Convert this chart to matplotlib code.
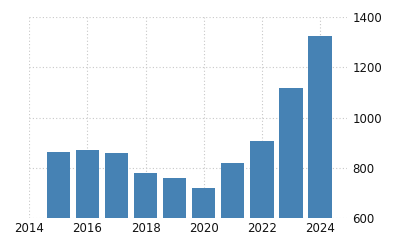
import matplotlib
matplotlib.use("Agg")
import matplotlib.pyplot as plt

years = [2015, 2016, 2017, 2018, 2019, 2020, 2021, 2022, 2023, 2024]
values = [864, 872, 860, 781, 761, 721, 820, 908, 1119, 1327]
xticks = [2014, 2016, 2018, 2020, 2022, 2024]
yticks = [600, 800, 1000, 1200, 1400]

fig = plt.figure(figsize=(4, 2.5), dpi=100)
ax = fig.add_axes([0.073, 0.127, 0.794, 0.804])
ax.bar(years, [v - 600 for v in values], bottom=600, width=0.8, color="#4682b4", zorder=2)
ax.set_xlim(2014, 2024.92)
ax.set_ylim(600, 1400)
ax.set_xticks(xticks)
ax.set_yticks(yticks)
ax.yaxis.tick_right()
for s in ax.spines.values():
    s.set_visible(False)
ax.grid(True, linestyle=(0, (1, 2)), color="#c8c8c8", linewidth=0.8, zorder=0)
ax.tick_params(length=0, labelsize=8.5, colors="#111111", pad=3)
ax.tick_params(axis="y", pad=4)
fig.savefig("out.png", dpi=100)
